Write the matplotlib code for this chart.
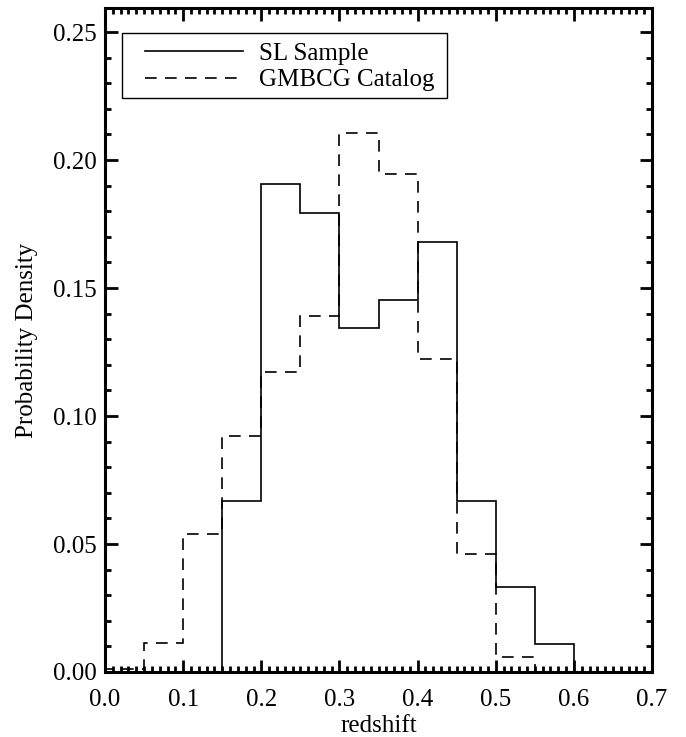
import matplotlib
matplotlib.use("Agg")
import matplotlib.pyplot as plt
from matplotlib.patches import Rectangle
from matplotlib.ticker import MultipleLocator, FormatStrFormatter

plt.rcParams["font.family"] = ["Liberation Serif", "DejaVu Serif"]

# histogram bins (redshift) and probability densities
sl_edges = [0.15, 0.20, 0.25, 0.30, 0.35, 0.40, 0.45, 0.50, 0.55, 0.60]
sl_density = [0.0670, 0.1905, 0.1793, 0.1342, 0.1452, 0.1678, 0.0670, 0.0332, 0.0108]

gm_edges = [0.00, 0.05, 0.10, 0.15, 0.20, 0.25, 0.30, 0.35, 0.40, 0.45, 0.50, 0.55]
gm_density = [0.0010, 0.0114, 0.0540, 0.0923, 0.1171, 0.1389, 0.2107, 0.1944, 0.1222, 0.0460, 0.0060]

fig = plt.figure(figsize=(6.86, 7.37), dpi=100)
ax = fig.add_axes([0.1531, 0.0882, 0.7974, 0.9009])

ax.stairs(sl_density, sl_edges, baseline=0, color="black", lw=1.2,
          label="SL Sample")
ax.stairs(gm_density, gm_edges, baseline=0, color="black", lw=1.2,
          linestyle=(0, (7, 5)), label="GMBCG Catalog")

ax.set_xlim(0, 0.7)
ax.set_ylim(0, 0.2594)

ax.xaxis.set_major_locator(MultipleLocator(0.1))
ax.xaxis.set_minor_locator(MultipleLocator(0.01))
ax.yaxis.set_major_locator(MultipleLocator(0.05))
ax.yaxis.set_minor_locator(MultipleLocator(0.01))
ax.xaxis.set_major_formatter(FormatStrFormatter("%.1f"))
ax.yaxis.set_major_formatter(FormatStrFormatter("%.2f"))

ax.tick_params(which="both", direction="in", top=True, right=True,
               labelsize=18, width=2, color="black")
ax.tick_params(which="major", length=9)
ax.tick_params(which="minor", length=4.5)
ax.tick_params(axis="x", which="major", pad=12)
ax.tick_params(axis="y", which="major", pad=6)
for s in ax.spines.values():
    s.set_linewidth(2.2)

ax.set_xlabel("redshift", fontsize=18, labelpad=3)
ax.set_ylabel("Probability Density", fontsize=18, labelpad=11)

# legend without its own frame, box drawn separately
leg = ax.legend(loc="upper left", bbox_to_anchor=(0.0731, 0.9485),
                fontsize=18, frameon=False, handlelength=3.9,
                handletextpad=0.65, borderpad=0, labelspacing=0.17,
                borderaxespad=0)
ax.add_patch(Rectangle((0.0305, 0.8645), 0.5947, 0.0978, transform=ax.transAxes,
                       fill=False, edgecolor="black", lw=1.0, zorder=5))

fig.savefig("out.png", dpi=100)
